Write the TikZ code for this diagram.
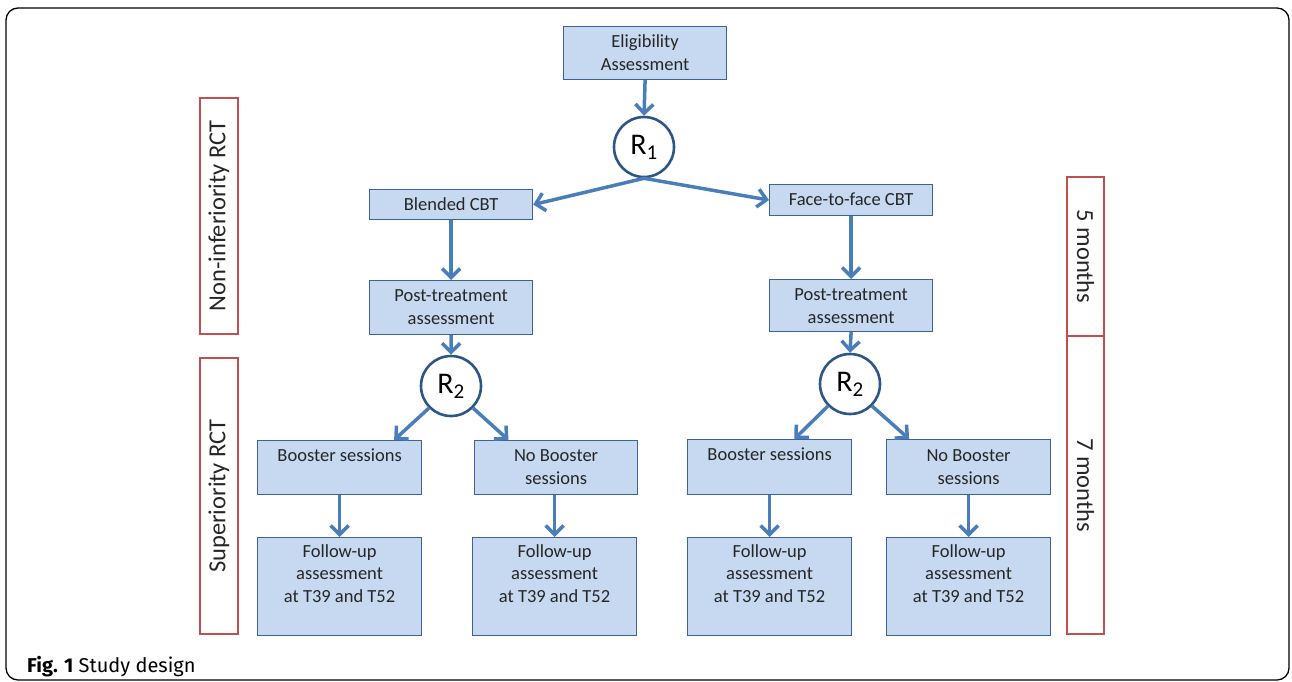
\documentclass[tikz,border=0pt]{standalone}
\usepackage{fontspec}
\setmainfont{Carlito}
\newfontfamily\capfont{Fira Sans}
\usetikzlibrary{arrows.meta,calc}
\definecolor{boxfill}{HTML}{C6D9F1}
\definecolor{boxdraw}{HTML}{3F6390}
\definecolor{arr}{HTML}{4A7EBB}
\definecolor{circ}{HTML}{2C5686}
\definecolor{redb}{HTML}{C0504D}
\begin{document}
\begin{tikzpicture}[x=1pt,y=-1pt,
  box/.style={draw=boxdraw, fill=boxfill, line width=1.2pt, inner sep=0pt, anchor=north west},
  txt/.style={font=\fontsize{18.5}{22.5}\selectfont, align=center, inner sep=0pt, anchor=base, text=black!85},
  rnd/.style={draw=circ, fill=white, line width=2.6pt, circle, minimum size=60pt, inner sep=0pt, font=\fontsize{30}{30}\selectfont},
  arw/.style={draw=arr, line width=3.5pt, -{Straight Barb[length=9pt,width=18pt]}},
  side/.style={draw=redb, line width=1.2pt, inner sep=0pt, minimum height=38pt, font=\fontsize{24.5}{28}\selectfont, text=black!85},
]
\useasboundingbox (0,0) rectangle (1292,681);
\draw[line width=1.3pt, rounded corners=12pt] (6,8) rectangle (1289,680);

% boxes (text nodes: anchor=base is the baseline of the last line)
\node[box, minimum width=163, minimum height=53] (elig) at (563,26) {};
\node[txt] (eligT) at ($(elig.north)+(0,44)$) {Eligibility\\Assessment};

\node[rnd] (r1) at (644,147) {R\textsubscript{1}};

\node[box, minimum width=163, minimum height=30] (bl) at (369,189) {};
\node[txt] (blT) at ($(bl.north)+(0,21)$) {Blended CBT};
\node[box, minimum width=163, minimum height=31] (ff) at (769,184) {};
\node[txt] (ffT) at ($(ff.north)+(0,21)$) {Face-to-face CBT};

\node[box, minimum width=163, minimum height=54] (ptl) at (369,280) {};
\node[txt] (ptlT) at ($(ptl.north)+(0,44)$) {Post-treatment\\assessment};
\node[box, minimum width=163, minimum height=52] (ptr) at (769,279) {};
\node[txt] (ptrT) at ($(ptr.north)+(0,44)$) {Post-treatment\\assessment};

\node[rnd] (r2l) at (451,386) {R\textsubscript{2}};
\node[rnd] (r2r) at (850,384) {R\textsubscript{2}};

\node[box, minimum width=164, minimum height=54] (b1) at (257,440) {};
\node[txt] (b1T) at ($(b1.north)+(0,21.5)$) {Booster sessions};
\node[box, minimum width=163, minimum height=54] (n1) at (474,440) {};
\node[txt] (n1T) at ($(n1.north)+(0,44)$) {No Booster\\sessions};
\node[box, minimum width=164, minimum height=55] (b2) at (687,439) {};
\node[txt] (b2T) at ($(b2.north)+(0,21.5)$) {Booster sessions};
\node[box, minimum width=164, minimum height=55] (n2) at (886,439) {};
\node[txt] (n2T) at ($(n2.north)+(0,45)$) {No Booster\\sessions};

\node[box, minimum width=164, minimum height=98] (f1) at (257,537) {};
\node[txt] (f1T) at ($(f1.north)+(0,65)$) {Follow-up\\assessment\\at T39 and T52};
\node[box, minimum width=164, minimum height=98] (f2) at (472,537) {};
\node[txt] (f2T) at ($(f2.north)+(0,65)$) {Follow-up\\assessment\\at T39 and T52};
\node[box, minimum width=164, minimum height=98] (f3) at (687,537) {};
\node[txt] (f3T) at ($(f3.north)+(0,65)$) {Follow-up\\assessment\\at T39 and T52};
\node[box, minimum width=164, minimum height=98] (f4) at (886,537) {};
\node[txt] (f4T) at ($(f4.north)+(0,65)$) {Follow-up\\assessment\\at T39 and T52};

% side labels
\node[side, rotate=90, minimum width=236] (nonInf) at (219,216) {Non-inferiority RCT};
\node[side, rotate=90, minimum width=276] (sup) at (219,496) {Superiority RCT};
\node[side, rotate=-90, minimum width=159, minimum height=37] (m5) at (1085.5,256.5) {5 months};
\node[side, rotate=-90, minimum width=298, minimum height=37] (m7) at (1085.5,485) {7 months};

% arrows
\draw[arw] (elig.south) -- (r1.north);
\draw[arw] (r1.south) -- (bl.east);
\draw[arw] (r1.south) -- (ff.west);
\draw[arw] (bl.south) -- (bl.south |- ptl.north);
\draw[arw] (ff.south) -- (ff.south |- ptr.north);
\draw[arw] (ptl.south) -- (r2l.north);
\draw[arw] (ptr.south) -- (r2r.north);
\draw[arw] (r2l.225) -- ($(b1.north west)!0.83!(b1.north east)$);
\draw[arw] (r2l.315) -- ($(n1.north west)!0.21!(n1.north east)$);
\draw[arw] (r2r.225) -- ($(b2.north west)!0.65!(b2.north east)$);
\draw[arw] (r2r.315) -- ($(n2.north west)!0.14!(n2.north east)$);
\draw[arw] (b1.south -| f1.north) -- (f1.north);
\draw[arw] (n1.south -| f2.north) -- (f2.north);
\draw[arw] (b2.south -| f3.north) -- (f3.north);
\draw[arw] (n2.south -| f4.north) -- (f4.north);

% caption
\node[anchor=base west, inner sep=0pt, font=\capfont\fontsize{20}{24}\selectfont] (cap) at (27,672) {\textbf{Fig. 1} Study design};
\end{tikzpicture}
\end{document}
